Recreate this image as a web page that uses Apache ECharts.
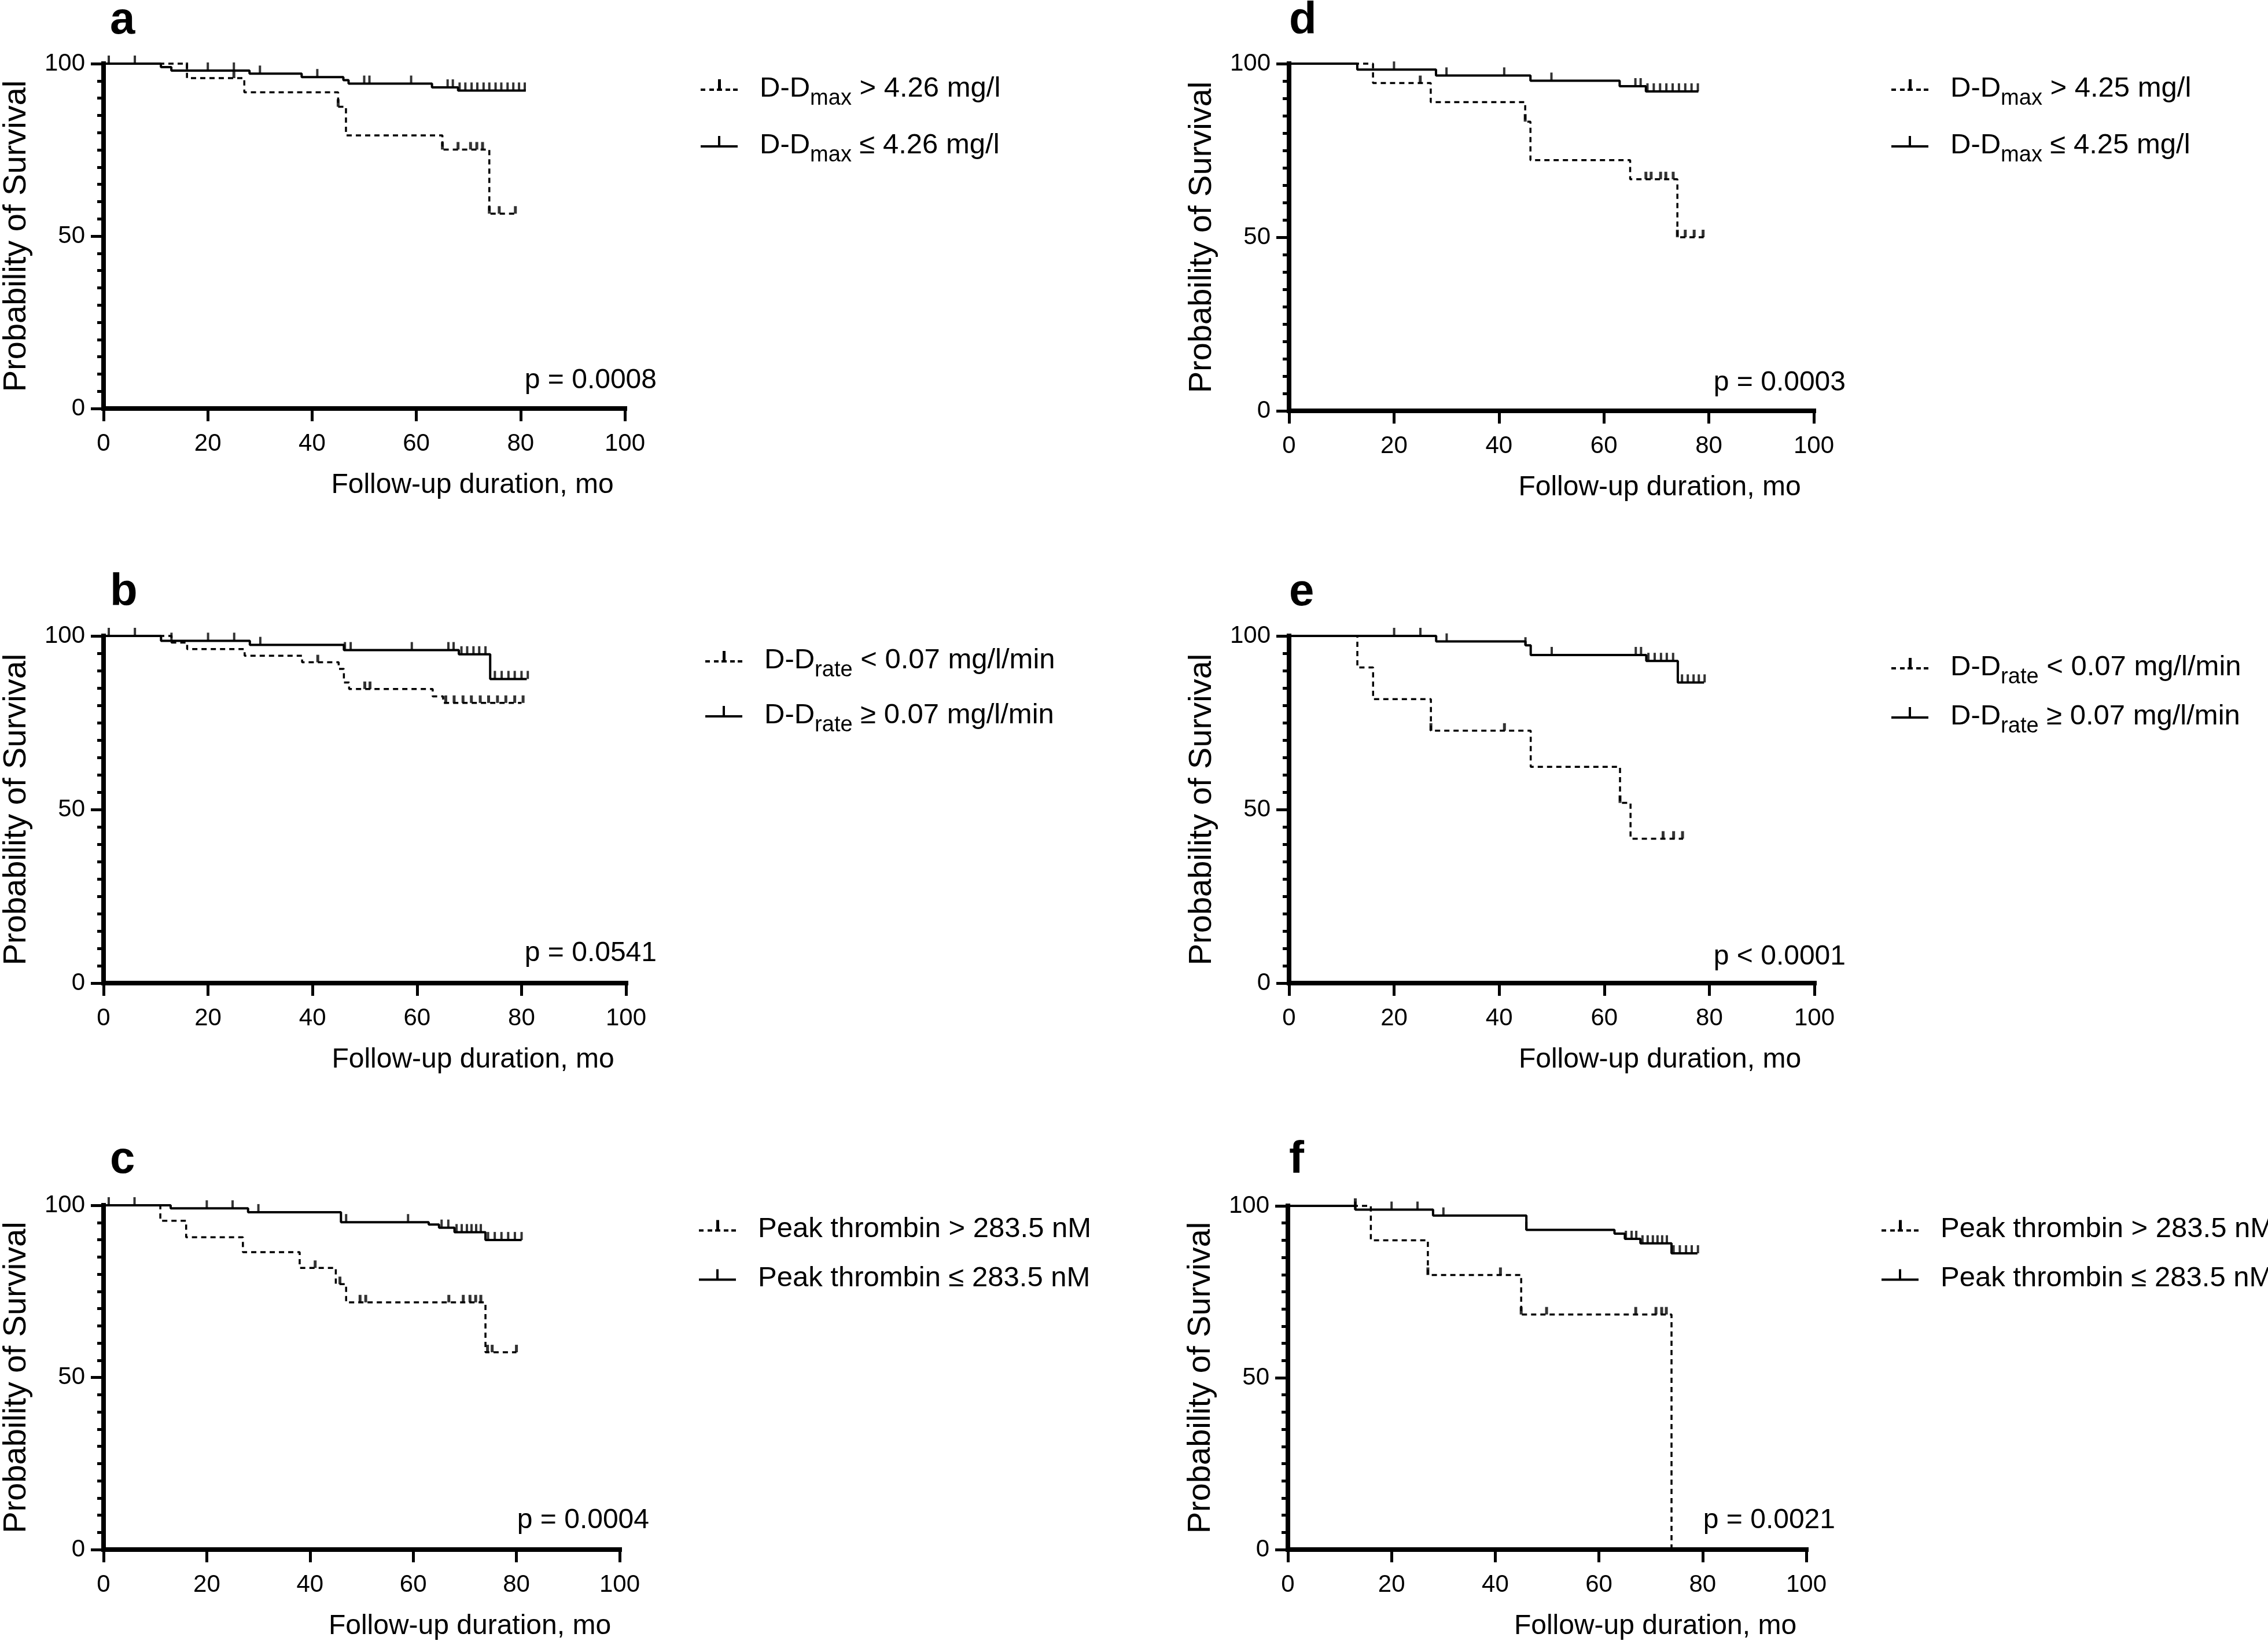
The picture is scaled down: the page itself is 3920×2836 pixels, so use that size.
<!DOCTYPE html>
<html>
<head>
<meta charset="utf-8">
<script src="https://cdn.jsdelivr.net/npm/echarts@6/dist/echarts.min.js"></script>
<style>html,body{margin:0;padding:0;background:#fff}#c{width:3920px;height:2836px}</style>
</head>
<body>
<div id="c"></div>
<script>
// ---------------- DATA ----------------
const panelKeys = ['a', 'b', 'c', 'd', 'e', 'f'];
const pValues = ['p = 0.0008', 'p = 0.0541', 'p = 0.0004', 'p = 0.0003', 'p < 0.0001', 'p = 0.0021'];
const xTickValues = [0, 20, 40, 60, 80, 100];
const yTickValues = [0, 50, 100];
const xTitle = 'Follow-up duration, mo';
const yTitle = 'Probability of Survival';

const legendHi = [
  '{m|D-D}{s|max}{m| > 4.26 mg/l}',
  '{m|D-D}{s|rate}{m| < 0.07 mg/l/min}',
  '{m|Peak thrombin > 283.5 nM}',
  '{m|D-D}{s|max}{m| > 4.25 mg/l}',
  '{m|D-D}{s|rate}{m| < 0.07 mg/l/min}',
  '{m|Peak thrombin > 283.5 nM}'
];
const legendLo = [
  '{m|D-D}{s|max}{m| ≤ 4.26 mg/l}',
  '{m|D-D}{s|rate}{m| ≥ 0.07 mg/l/min}',
  '{m|Peak thrombin ≤ 283.5 nM}',
  '{m|D-D}{s|max}{m| ≤ 4.25 mg/l}',
  '{m|D-D}{s|rate}{m| ≥ 0.07 mg/l/min}',
  '{m|Peak thrombin ≤ 283.5 nM}'
];

// Kaplan-Meier steps [month, survival %] and censor times (months)
const aHiSteps = [[0,100],[16,95.8],[27,91.7],[45,87.5],[46.5,79.2],[65,75.1],[74,56.5],[79,56.5]];
const aHiCens = [25, 45, 65, 68, 70.4, 71.6, 72.7, 74, 75.9, 79];
const aLoSteps = [[0,100],[11,99.0],[13,98.0],[28,97.1],[38,96.1],[46,95.2],[47,94.2],[63,93.1],[68,92.2],[81,92.2]];
const aLoCens = [1, 6, 16, 20, 25, 30, 41, 50, 51, 59, 66, 67, 68.3, 69.4, 70.6, 71.7, 72.9, 74, 75.2, 76.3, 77.5, 78.6, 79.7, 80.8];

const bHiSteps = [[0,100],[13,98.1],[16,96.2],[27,94.3],[38,92.4],[45,90.5],[46,86.6],[47,84.7],[63,82.6],[65,80.7],[80,80.7]];
const bHiCens = [41, 50, 51, 65.5, 67.1, 68.8, 70.4, 72.1, 73.7, 75.4, 77.0, 78.7, 80.3];
const bLoSteps = [[0,100],[11,98.6],[28,97.4],[46,95.9],[68,94.7],[74,87.6],[81,87.6]];
const bLoCens = [1, 6, 13, 20, 25, 30, 46.2, 47.3, 59, 66, 67, 68.5, 69.6, 70.8, 71.9, 73.1, 74.9, 76.2, 77.5, 78.7, 80, 81.2];

const cHiSteps = [[0,100],[11,95.5],[16,90.7],[27,86.4],[38,81.8],[45,77.1],[47,71.8],[74,57.3],[80,57.3]];
const cHiCens = [41, 45.8, 49.7, 50.8, 66.9, 69.7, 71, 72.1, 73.1, 74.4, 75.3, 80];
const cLoSteps = [[0,100],[13,99.1],[28,98.0],[46,95.1],[63,94.4],[65,93.5],[68,92.2],[74,89.9],[81,89.9]];
const cLoCens = [1, 6, 20, 25, 30, 47, 59, 65.5, 66.8, 68.4, 69.4, 70.4, 71.3, 72.2, 73.1, 74.5, 75.8, 77.1, 78.4, 79.7, 81];

const dHiSteps = [[0,100],[16,94.4],[27,88.9],[45,83.3],[46,72.2],[65,66.7],[74,50.0],[79,50.0]];
const dHiCens = [25, 45, 68, 69, 70.8, 71.8, 73.2, 74, 75.5, 77.2, 78.9];
const dLoSteps = [[0,100],[13,98.3],[28,96.6],[46,95.1],[63,93.5],[68,92.0],[78,92.0]];
const dLoCens = [20, 30, 41, 50, 66, 67, 68.3, 69.5, 70.7, 71.9, 73.1, 74.3, 75.5, 76.7, 77.9];

const eHiSteps = [[0,100],[13,90.9],[16,81.8],[27,72.7],[46,62.3],[63,51.9],[65,41.6],[75,41.6]];
const eHiCens = [27, 41, 63, 71.2, 73.2, 74.9];
const eLoSteps = [[0,100],[28,98.4],[45,97.3],[46,94.5],[68,92.8],[74,86.6],[79,86.6]];
const eLoCens = [20, 25, 30, 45, 50, 66, 67, 68.4, 69.6, 70.8, 71.9, 73.1, 74.8, 75.9, 77, 78, 79.1];

const fHiSteps = [[0,100],[16,90.0],[27,79.9],[45,68.4],[74,0]];
const fHiCens = [13, 27, 41, 45, 49.9, 67.1, 71, 72.1, 73];
const fLoSteps = [[0,100],[13,98.9],[28,97.2],[46,93.0],[63,91.9],[65,90.4],[68,89.1],[74,86.2],[79,86.2]];
const fLoCens = [13, 20, 25, 30, 46, 65.2, 66.3, 67.2, 68.4, 69.4, 70.4, 71.3, 72.2, 73.1, 74.4, 75.6, 76.8, 77.9, 79.1];

// ---------------- LAYOUT (pixels) ----------------
const grids = [
  {left: 175, top: 110, width: 905, height: 596},
  {left: 175, top: 1099, width: 907, height: 600},
  {left: 174, top: 2083, width: 897, height: 595},
  {left: 2228, top: 110, width: 907, height: 600},
  {left: 2228, top: 1099, width: 908, height: 600},
  {left: 2226, top: 2084, width: 896, height: 594}
];
const letterPos = [[190, 36], [190, 1024], [190, 2005], [2228, 36], [2228, 1024], [2228, 2005]];
const pPos = [[1135, 658], [1135, 1648], [1122, 2628], [3190, 662], [3190, 1654], [3172, 2628]];
const legendPos = [
  {left: 1211, rows: [150, 248], sub: true},
  {left: 1219, rows: [1138, 1233], sub: true},
  {left: 1208, rows: [2123, 2208], sub: false},
  {left: 3269, rows: [150, 248], sub: true},
  {left: 3269, rows: [1150, 1235], sub: true},
  {left: 3252, rows: [2123, 2208], sub: false}
];

const steps = {
  a: [aHiSteps, aLoSteps], b: [bHiSteps, bLoSteps], c: [cHiSteps, cLoSteps],
  d: [dHiSteps, dLoSteps], e: [eHiSteps, eLoSteps], f: [fHiSteps, fLoSteps]
};
const cens = {
  a: [aHiCens, aLoCens], b: [bHiCens, bLoCens], c: [cHiCens, cLoCens],
  d: [dHiCens, dLoCens], e: [eHiCens, eLoCens], f: [fHiCens, fLoCens]
};

const FONT = '"Liberation Sans", Arial, Helvetica, sans-serif';
const DASH_ICON = 'path://M0,16h8v4h-8z M15,16h8v4h-8z M28,16h9v4h-9z M30,0h5v16h-5z M43,16h8v4h-8z M56,16h8v4h-8z';
const SOLID_ICON = 'path://M0,16h64v4h-64z M30,0h4v16h-4z';

function survivalAt(st, t) {
  let s = st[0][1];
  for (const p of st) { if (p[0] <= t + 1e-9) s = p[1]; }
  return s;
}

const option = {
  animation: false,
  backgroundColor: '#fff',
  grid: [], xAxis: [], yAxis: [], series: [], legend: [], graphic: []
};

panelKeys.forEach((k, i) => {
  const g = grids[i];
  option.grid.push({left: g.left, top: g.top, width: g.width, height: g.height, containLabel: false});
  option.xAxis.push({
    gridIndex: i, type: 'value', min: 0, max: 100, interval: 20,
    axisLine: {show: true, onZero: false, lineStyle: {color: '#000', width: 8, cap: 'square'}},
    axisTick: {show: true, length: 22, lineStyle: {color: '#000', width: 5}},
    axisLabel: {show: true, color: '#000', fontFamily: FONT, fontSize: 42, margin: 40,
      formatter: v => (xTickValues.indexOf(v) >= 0 ? String(v) : '')},
    splitLine: {show: false},
    name: xTitle, nameLocation: 'middle', nameGap: 109,
    nameTextStyle: {color: '#000', fontFamily: FONT, fontSize: 48, padding: [0, 0, 0, 374]}
  });
  option.yAxis.push({
    gridIndex: i, type: 'value', min: 0, max: 100, interval: 50,
    axisLine: {show: true, onZero: false, lineStyle: {color: '#000', width: 8, cap: 'square'}},
    axisTick: {show: true, length: 22, lineStyle: {color: '#000', width: 5}},
    minorTick: {show: true, splitNumber: 10, length: 11, lineStyle: {color: '#000', width: 5}},
    axisLabel: {show: true, color: '#000', fontFamily: FONT, fontSize: 42, margin: 32,
      formatter: v => (yTickValues.indexOf(v) >= 0 ? String(v) : '')},
    splitLine: {show: false}, minorSplitLine: {show: false},
    name: yTitle, nameLocation: 'middle', nameGap: 122,
    nameTextStyle: {color: '#000', fontFamily: FONT, fontSize: 56}
  });

  const [hiSt, loSt] = steps[k];
  const [hiC, loC] = cens[k];
  option.series.push({
    type: 'line', name: k + 'hi', xAxisIndex: i, yAxisIndex: i, data: hiSt, step: 'end',
    symbol: 'none', showSymbol: false, color: '#000', clip: false, z: 3, silent: true,
    itemStyle: {color: '#000'},
    lineStyle: {color: '#000', width: 3.5, type: [9, 7]}
  });
  option.series.push({
    type: 'line', name: k + 'lo', xAxisIndex: i, yAxisIndex: i, data: loSt, step: 'end',
    symbol: 'none', showSymbol: false, color: '#000', clip: false, z: 4, silent: true,
    itemStyle: {color: '#000'},
    lineStyle: {color: '#000', width: 4, type: 'solid'}
  });
  option.series.push({
    type: 'scatter', name: k + 'hiC', xAxisIndex: i, yAxisIndex: i,
    data: hiC.map(t => [t, survivalAt(hiSt, t)]),
    symbol: 'rect', symbolSize: [5, 13], symbolOffset: [0, -6.5], clip: false, z: 5, silent: true,
    itemStyle: {color: '#000'}
  });
  option.series.push({
    type: 'scatter', name: k + 'loC', xAxisIndex: i, yAxisIndex: i,
    data: loC.map(t => [t, survivalAt(loSt, t)]),
    symbol: 'rect', symbolSize: [4, 14], symbolOffset: [0, -7], clip: false, z: 5, silent: true,
    itemStyle: {color: '#000'}
  });

  const lp = legendPos[i];
  const off = lp.sub ? 34 : 23;
  const labels = {};
  labels[k + 'hi'] = legendHi[i];
  labels[k + 'lo'] = legendLo[i];
  [[k + 'hi', DASH_ICON, lp.rows[0]], [k + 'lo', SOLID_ICON, lp.rows[1]]].forEach(([nm, icon, rowC]) => {
    option.legend.push({
      data: [{name: nm, icon: icon}],
      left: lp.left, top: rowC - off, padding: 0,
      itemWidth: 64, itemHeight: 20, selectedMode: false,
      itemStyle: {color: '#000', borderWidth: 0},
      lineStyle: {width: 0},
      formatter: n => labels[n],
      textStyle: {
        color: '#000', fontFamily: FONT, fontSize: 49, padding: [12, 0, 0, 33],
        rich: {
          m: {color: '#000', fontFamily: FONT, fontSize: 49, lineHeight: 56, verticalAlign: 'middle'},
          s: {color: '#000', fontFamily: FONT, fontSize: 38, lineHeight: 38, padding: [36, 0, 0, 0], verticalAlign: 'middle'}
        }
      }
    });
  });

  option.graphic.push({
    type: 'text', x: letterPos[i][0], y: letterPos[i][1], silent: true,
    style: {text: k, fill: '#000', font: 'bold 78px ' + FONT,
      align: 'left', textAlign: 'left', verticalAlign: 'middle', textVerticalAlign: 'middle'}
  });
  option.graphic.push({
    type: 'text', x: pPos[i][0], y: pPos[i][1], silent: true,
    style: {text: pValues[i], fill: '#000', font: '48px ' + FONT,
      align: 'right', textAlign: 'right', verticalAlign: 'middle', textVerticalAlign: 'middle'}
  });
});

const chart = echarts.init(document.getElementById('c'), null, {renderer: 'canvas', width: 3920, height: 2836});
chart.setOption(option);
</script>
</body>
</html>
